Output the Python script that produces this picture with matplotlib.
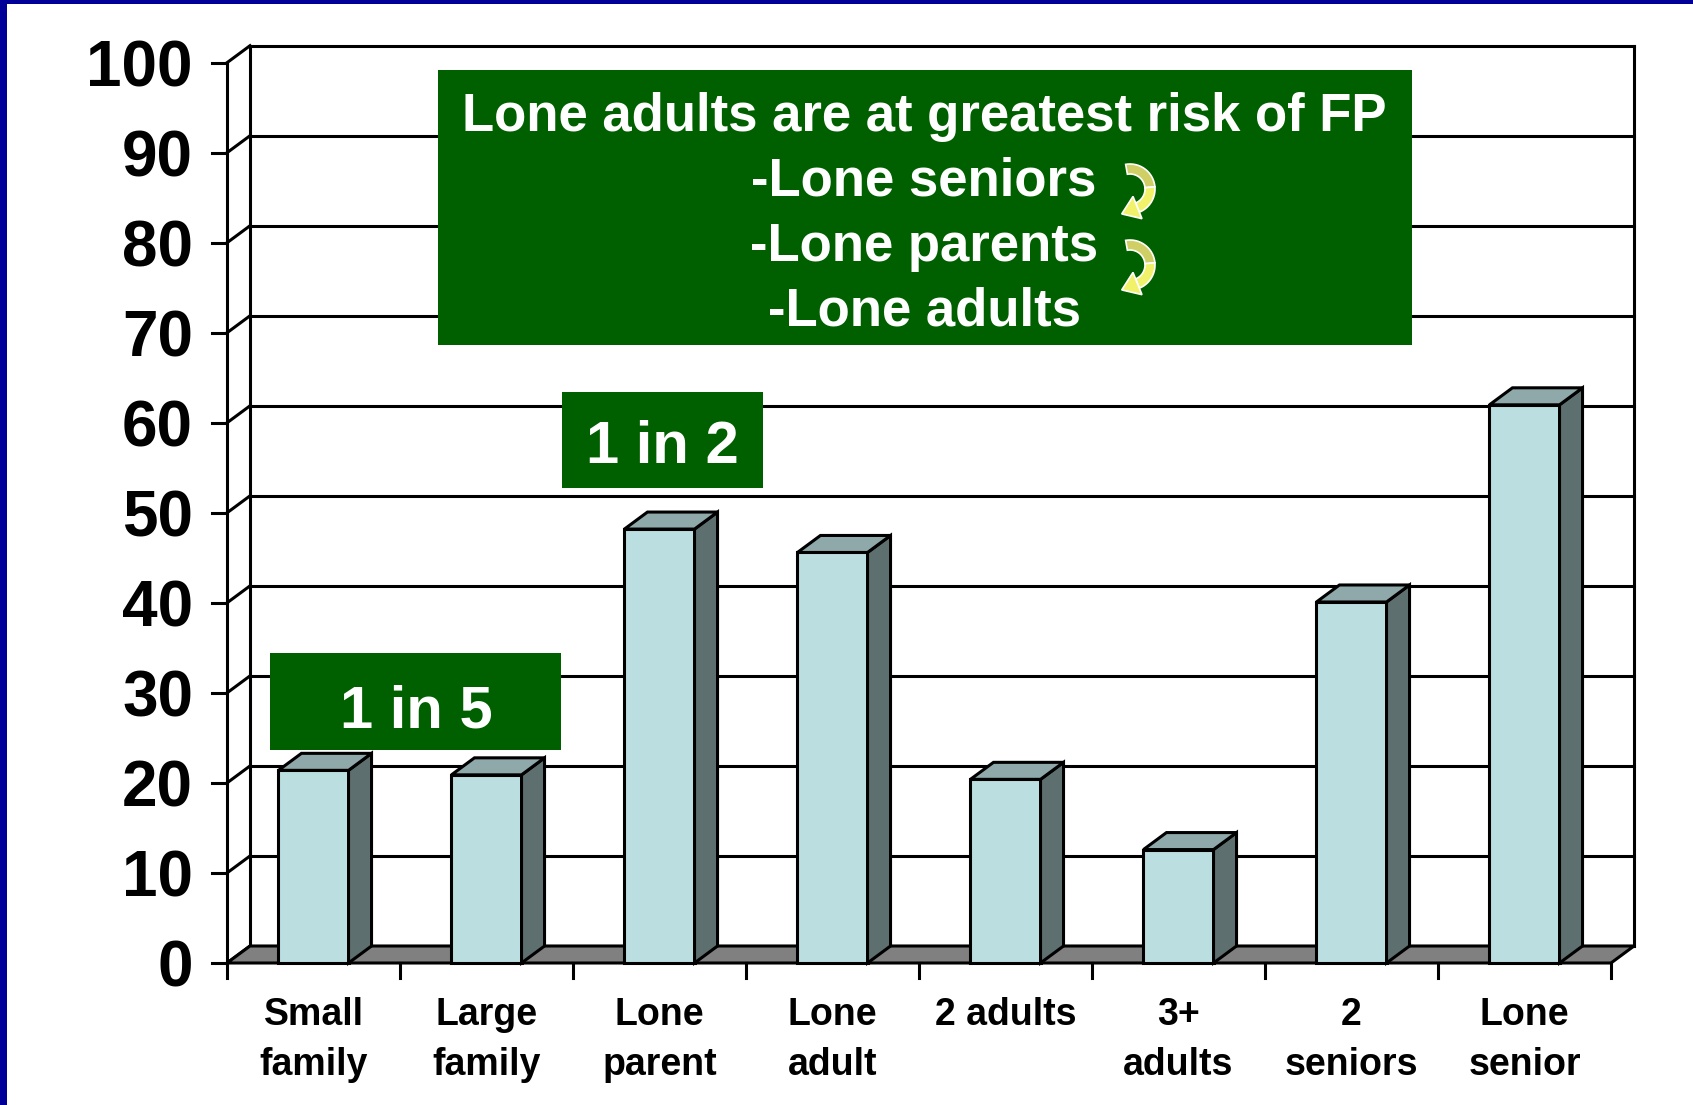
import numpy as np
import matplotlib
matplotlib.use("Agg")
import matplotlib.pyplot as plt
from matplotlib.patches import Polygon, Rectangle

plt.rcParams['font.family'] = ['Liberation Sans', 'DejaVu Sans']
plt.rcParams['font.weight'] = 'bold'

# data
categories = ["Small\nfamily", "Large\nfamily", "Lone\nparent", "Lone\nadult",
              "2 adults", "3+\nadults", "2\nseniors", "Lone\nsenior"]
values = [21.4, 20.9, 48.2, 45.6, 20.4, 12.6, 40.1, 62.0]
yticks = [0, 10, 20, 30, 40, 50, 60, 70, 80, 90, 100]
title_lines = ["Lone adults are at greatest risk of FP", "-Lone seniors",
               "-Lone parents", "-Lone adults"]

W, H = 1693, 1105
fig = plt.figure(figsize=(W / 100, H / 100), dpi=100)
fig.patch.set_facecolor('white')

# main axes = front plane of the 3d box
ax = fig.add_axes([227 / W, 1 - 963 / H, 1384 / W, 900.3 / H])
ax.set_xlim(0, len(categories))
ax.set_ylim(0, 100)
ax.axis('off')

n = len(categories)
dx = 23 / 173.0    # depth offset in category units
dy = 17 / 9.003    # depth offset in value units
lw = 2.2
front_c = '#BBDEE0'
side_c = '#5E6F70'
top_c = '#8FA9AA'

# back wall and gridlines
for v in yticks:
    ax.plot([dx, n + dx], [v + dy, v + dy], color='black', lw=lw, zorder=1, clip_on=False)
    ax.plot([0, dx], [v, v + dy], color='black', lw=lw, zorder=1, clip_on=False)
    ax.plot([-15 / 173.0, 0], [v, v], color='black', lw=lw, zorder=1, clip_on=False)
    ax.text(-34 / 173.0, v, str(v), ha='right', va='center_baseline',
            fontsize=46, fontweight='bold')
ax.plot([dx, dx], [dy, 100 + dy], color='black', lw=lw, zorder=1, clip_on=False)
ax.plot([n + dx, n + dx], [dy, 100 + dy], color='black', lw=lw, zorder=1, clip_on=False)
ax.plot([0, 0], [0, 100], color='black', lw=lw, zorder=1, clip_on=False)

# floor
ax.add_patch(Polygon([(0, 0), (n, 0), (n + dx, dy), (dx, dy)], closed=True,
                     facecolor='#808080', edgecolor='black', lw=lw, zorder=2, clip_on=False))

# x ticks
for i in range(n + 1):
    ax.plot([i, i], [0, -15 / 9.003], color='black', lw=lw, zorder=2, clip_on=False)

# bars
bw = 0.405
for i, v in enumerate(values):
    l = i + 0.5 - bw / 2
    r = i + 0.5 + bw / 2
    ax.add_patch(Rectangle((l, 0), bw, v, facecolor=front_c, edgecolor='black',
                           lw=lw, zorder=3, clip_on=False))
    ax.add_patch(Polygon([(r, 0), (r + dx, dy), (r + dx, v + dy), (r, v)], closed=True,
                         facecolor=side_c, edgecolor='black', lw=lw, zorder=3, clip_on=False))
    ax.add_patch(Polygon([(l, v), (r, v), (r + dx, v + dy), (l + dx, v + dy)], closed=True,
                         facecolor=top_c, edgecolor='black', lw=lw, zorder=3, clip_on=False))
    ax.text(i + 0.5, -34 / 9.003, categories[i], ha='center', va='top',
            fontsize=27, fontweight='bold', linespacing=1.5)

# overlay in pixel coordinates for the annotation boxes
ov = fig.add_axes([0, 0, 1, 1], zorder=5)
ov.set_xlim(0, W)
ov.set_ylim(H, 0)
ov.axis('off')
ov.patch.set_alpha(0)

green = '#006000'
ov.add_patch(Rectangle((438, 70), 974, 275, facecolor=green, edgecolor='none'))
for k, line in enumerate(title_lines):
    ov.text(924, 131.5 + k * 64.5, line, ha='center', va='baseline',
            color='white', fontsize=38, fontweight='bold')

ov.add_patch(Rectangle((562, 392), 201, 96, facecolor=green, edgecolor='none'))
ov.text(662, 463, "1 in 2", ha='center', va='baseline', color='white',
        fontsize=43, fontweight='bold')
ov.add_patch(Rectangle((270, 653), 291, 97, facecolor=green, edgecolor='none'))
ov.text(416, 727, "1 in 5", ha='center', va='baseline', color='white',
        fontsize=43, fontweight='bold')


# curved yellow arrows (clockwise arc with a head pointing left)
def curl_arrow(cx, cy, r=20, w=10, t0=100, t1=-68, head_w=24, head_l=17):
    def pt(t, rad):
        a = np.radians(t)
        return (cx + rad * np.cos(a), cy - rad * np.sin(a))
    upper = np.linspace(t0, 5, 20)
    lower = np.linspace(5, t1, 20)
    band1 = [pt(t, r + w / 2) for t in upper] + [pt(t, r - w / 2) for t in upper[::-1]]
    band2 = [pt(t, r + w / 2) for t in lower] + [pt(t, r - w / 2) for t in lower[::-1]]
    ov.add_patch(Polygon(band1, closed=True, facecolor='#CFCF66', edgecolor='white', lw=1.2))
    ov.add_patch(Polygon(band2, closed=True, facecolor='#F2F26A', edgecolor='white', lw=1.2))
    a = np.radians(t1)
    base = np.array(pt(t1, r))
    tang = np.array([np.sin(a), np.cos(a)])
    norm = np.array([np.cos(a), -np.sin(a)])
    tip = base + head_l * tang
    head = [base + norm * head_w / 2, tip, base - norm * head_w / 2]
    ov.add_patch(Polygon(head, closed=True, facecolor='#F2F26A', edgecolor='white', lw=1.2))


curl_arrow(1130, 189)
curl_arrow(1130, 265)

# blue frame on the left and top
ov.add_patch(Rectangle((0, 0), 7, H, facecolor='#000099', edgecolor='none'))
ov.add_patch(Rectangle((0, 0), W, 4, facecolor='#000099', edgecolor='none'))

fig.savefig('out.png', dpi=100)
